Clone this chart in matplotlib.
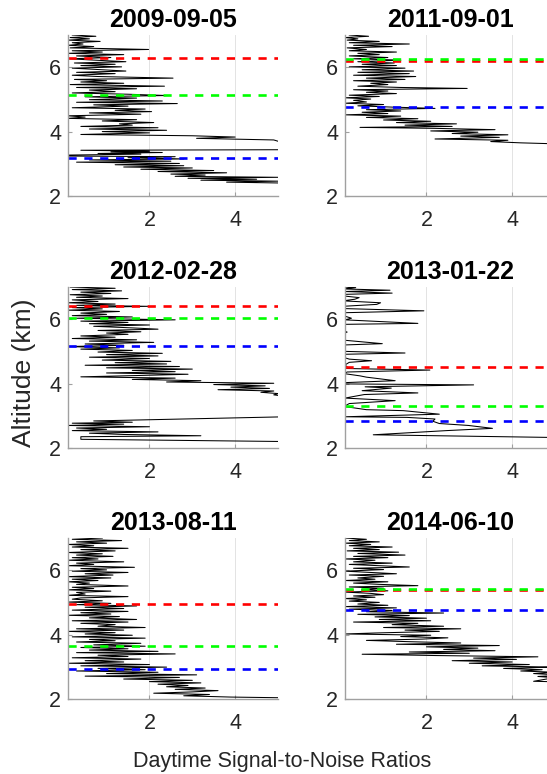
import matplotlib
matplotlib.use("Agg")
import matplotlib.pyplot as plt

plt.rcParams['font.family'] = ['Liberation Sans', 'DejaVu Sans']

# ---- data (altitude km, daytime SNR) ----
titles = ['2009-09-05', '2011-09-01', '2012-02-28',
          '2013-01-22', '2013-08-11', '2014-06-10']

alt_a = [7.00, 6.96, 6.92, 6.88, 6.84, 6.80, 6.76, 6.72, 6.68, 6.64, 6.60, 6.55, 6.51, 6.47,
         6.43, 6.39, 6.35, 6.30, 6.26, 6.22, 6.17, 6.13, 6.09, 6.05, 6.01, 5.97, 5.92, 5.88,
         5.84, 5.80, 5.75, 5.71, 5.66, 5.62, 5.58, 5.54, 5.50, 5.46, 5.41, 5.37, 5.33, 5.29,
         5.24, 5.20, 5.16, 5.12, 5.08, 5.04, 4.99, 4.95, 4.91, 4.87, 4.83, 4.79, 4.74, 4.70,
         4.66, 4.62, 4.58, 4.54, 4.49, 4.45, 4.41, 4.37, 4.33, 4.28, 4.24, 4.20, 4.16, 4.12,
         4.08, 4.04, 4.00, 3.96, 3.91, 3.87, 3.83, 3.79, 3.74, 3.70, 3.60, 3.50, 3.44, 3.42,
         3.39, 3.37, 3.35, 3.32, 3.30, 3.27, 3.24, 3.22, 3.19, 3.15, 3.12, 3.08, 3.05, 3.01,
         2.97, 2.94, 2.90, 2.87, 2.83, 2.79, 2.76, 2.72, 2.68, 2.65, 2.61, 2.58, 2.55, 2.52,
         2.49, 2.46, 2.43, 2.40]
snr_a = [0.20, 0.75, 0.15, 0.60, 0.10, 0.85, 0.20, 0.45, 0.10, 0.70, 0.15, 1.98, 0.20, 0.90,
         0.10, 1.40, 0.30, 1.10, 0.15, 0.70, 1.45, 0.25, 1.20, 0.40, 1.35, 0.20, 0.90, 1.45,
         0.30, 1.20, 0.20, 0.80, 2.55, 0.25, 1.00, 0.40, 1.40, 0.15, 2.35, 0.30, 1.70, 0.60,
         1.20, 0.20, 1.50, 2.40, 0.50, 1.70, 0.60, 2.30, 0.30, 2.65, 0.70, 1.50, 0.20, 1.90,
         1.20, 2.05, 0.60, 1.80, 0.10, 0.50, 0.10, 1.70, 0.90, 2.10, 1.30, 1.60, 0.40, 2.20,
         0.60, 2.40, 0.90, 2.00, 0.40, 3.00, 4.00, 3.10, 4.90, 5.00, 6.00, 6.50, 6.00, 0.40,
         2.00, 1.10, 2.30, 0.80, 1.80, 0.10, 0.10, 2.60, 1.50, 2.80, 0.60, 2.50, 0.30, 2.70,
         1.20, 2.80, 1.40, 3.00, 1.80, 3.50, 2.20, 3.80, 2.50, 3.30, 2.60, 5.00, 2.90, 4.50,
         3.20, 5.00, 3.80, 5.20]

alt_b = [7.00, 6.96, 6.92, 6.88, 6.84, 6.80, 6.76, 6.72, 6.68, 6.64, 6.60, 6.55, 6.51, 6.47,
         6.43, 6.39, 6.35, 6.30, 6.26, 6.22, 6.17, 6.13, 6.09, 6.05, 6.01, 5.97, 5.92, 5.88,
         5.84, 5.80, 5.75, 5.71, 5.66, 5.62, 5.58, 5.54, 5.50, 5.46, 5.41, 5.37, 5.34, 5.30,
         5.26, 5.22, 5.18, 5.13, 5.09, 5.05, 5.01, 4.97, 4.92, 4.88, 4.84, 4.80, 4.76, 4.72,
         4.68, 4.64, 4.60, 4.56, 4.52, 4.48, 4.44, 4.40, 4.36, 4.32, 4.28, 4.24, 4.20, 4.16,
         4.13, 4.10, 4.06, 4.02, 3.98, 3.94, 3.90, 3.86, 3.82, 3.77, 3.73, 3.69, 3.65, 3.62,
         3.58, 3.50]
snr_b = [0.20, 0.65, 0.10, 0.40, 0.15, 0.90, 0.20, 1.60, 0.30, 1.20, 0.15, 0.60, 0.20, 1.30,
         0.40, 0.90, 0.20, 1.10, 0.30, 1.40, 0.40, 1.25, 0.50, 1.30, 0.20, 1.50, 0.50, 1.70,
         0.40, 1.60, 0.30, 1.75, 0.60, 1.50, 0.30, 1.30, 0.70, 1.10, 0.40, 1.40, 2.95, 0.30,
         1.10, 0.60, 1.30, 0.20, 0.90, 0.10, 0.70, 0.30, 0.60, 0.10, 1.00, 0.40, 1.20, 2.20,
         0.60, 1.40, 0.50, 1.10, 0.10, 1.40, 0.60, 1.80, 1.00, 2.10, 1.30, 2.70, 1.50, 2.60,
         0.45, 2.20, 3.60, 2.10, 3.20, 2.60, 3.90, 2.80, 3.70, 2.20, 3.90, 3.50, 4.20, 5.00,
         5.20, 6.00]

alt_c = [7.00, 6.96, 6.92, 6.88, 6.84, 6.80, 6.76, 6.72, 6.68, 6.64, 6.60, 6.55, 6.51, 6.47,
         6.43, 6.40, 6.36, 6.32, 6.28, 6.24, 6.19, 6.15, 6.11, 6.07, 6.03, 5.98, 5.94, 5.90,
         5.86, 5.82, 5.78, 5.73, 5.69, 5.65, 5.61, 5.57, 5.53, 5.48, 5.44, 5.40, 5.36, 5.32,
         5.28, 5.23, 5.19, 5.15, 5.11, 5.07, 5.03, 4.98, 4.94, 4.90, 4.86, 4.82, 4.78, 4.73,
         4.69, 4.65, 4.61, 4.57, 4.53, 4.49, 4.45, 4.41, 4.37, 4.33, 4.29, 4.25, 4.21, 4.17,
         4.13, 4.09, 4.05, 4.01, 3.97, 3.93, 3.89, 3.85, 3.81, 3.77, 3.73, 3.69, 3.65, 3.60,
         3.40, 3.10, 2.97, 2.84, 2.80, 2.77, 2.74, 2.70, 2.66, 2.62, 2.58, 2.54, 2.50, 2.46,
         2.42, 2.38, 2.35, 2.31, 2.27, 2.20]
snr_c = [0.15, 1.20, 0.20, 1.35, 0.40, 1.10, 0.15, 0.90, 0.30, 1.50, 0.20, 0.80, 0.10, 1.20,
         0.30, 1.98, 0.20, 0.90, 0.10, 1.30, 0.40, 1.00, 0.20, 1.60, 0.30, 2.60, 0.40, 1.50,
         0.60, 2.00, 0.70, 1.60, 2.20, 0.80, 1.80, 1.00, 1.50, 0.40, 1.20, 0.20, 1.70, 0.60,
         2.10, 0.50, 1.40, 0.10, 1.30, 0.40, 1.60, 0.80, 2.30, 1.00, 2.20, 0.60, 2.00, 0.90,
         2.50, 1.20, 2.40, 0.50, 2.70, 1.00, 3.00, 1.60, 2.60, 1.00, 2.90, 1.70, 0.40, 2.60,
         1.60, 3.20, 2.40, 4.90, 3.50, 4.70, 3.90, 4.80, 3.60, 4.90, 4.60, 5.00, 4.90, 5.20,
         6.00, 6.50, 5.20, 0.70, 1.60, 0.20, 1.40, 0.10, 2.00, 0.30, 1.00, 0.20, 2.20, 0.60,
         1.40, 3.20, 0.40, 0.40, 0.40, 5.20]

alt_d = [7.00, 6.98, 6.94, 6.90, 6.86, 6.81, 6.77, 6.72, 6.67, 6.62, 6.57, 6.51, 6.46, 6.40,
         6.33, 6.26, 6.20, 6.12, 6.03, 5.98, 5.87, 5.84, 5.75, 5.65, 5.60, 5.55, 5.45, 5.35,
         5.24, 5.20, 5.10, 5.00, 4.95, 4.91, 4.82, 4.76, 4.71, 4.66, 4.58, 4.52, 4.47, 4.42,
         4.36, 4.31, 4.24, 4.20, 4.09, 4.03, 3.99, 3.96, 3.90, 3.86, 3.78, 3.71, 3.66, 3.55,
         3.47, 3.38, 3.29, 3.19, 3.16, 3.05, 2.97, 2.95, 2.90, 2.83, 2.76, 2.70, 2.61, 2.54,
         2.41, 2.33, 2.31]
snr_d = [0.05, 0.35, 0.05, 1.15, 0.10, 1.20, 0.05, 0.08, 0.43, 0.33, 0.05, 0.93, 0.84, 0.05,
         0.08, 1.94, 0.05, 0.04, 0.25, 0.10, 1.80, 0.08, 0.03, 0.05, 0.15, 0.05, 0.03, 0.06,
         0.97, 0.08, 0.05, 0.12, 1.50, 0.08, 0.05, 0.20, 0.72, 0.20, 0.10, 0.15, 0.08, 2.08,
         0.15, 0.08, 0.45, 0.60, 1.27, 0.10, 0.08, 3.10, 0.57, 1.18, 0.50, 1.80, 0.55, 0.10,
         1.27, 0.20, 0.08, 0.60, 1.46, 2.30, 0.10, 1.55, 2.20, 2.15, 2.30, 2.98, 3.54, 2.47,
         0.76, 4.80, 5.50]

alt_e = [7.00, 6.96, 6.92, 6.88, 6.84, 6.80, 6.76, 6.72, 6.68, 6.64, 6.60, 6.55, 6.51, 6.47,
         6.43, 6.39, 6.35, 6.31, 6.26, 6.22, 6.18, 6.14, 6.09, 6.05, 6.01, 5.97, 5.93, 5.89,
         5.85, 5.80, 5.76, 5.72, 5.68, 5.64, 5.60, 5.56, 5.51, 5.47, 5.43, 5.39, 5.35, 5.31,
         5.26, 5.22, 5.18, 5.14, 5.10, 5.05, 5.01, 4.97, 4.93, 4.89, 4.85, 4.81, 4.76, 4.72,
         4.68, 4.64, 4.60, 4.56, 4.52, 4.47, 4.43, 4.39, 4.35, 4.31, 4.26, 4.22, 4.18, 4.14,
         4.10, 4.06, 4.02, 3.98, 3.93, 3.89, 3.85, 3.81, 3.77, 3.73, 3.68, 3.64, 3.60, 3.56,
         3.52, 3.48, 3.44, 3.40, 3.36, 3.32, 3.28, 3.24, 3.19, 3.15, 3.11, 3.07, 3.03, 2.99,
         2.95, 2.91, 2.87, 2.83, 2.79, 2.75, 2.71, 2.67, 2.62, 2.58, 2.54, 2.50, 2.46, 2.42,
         2.38, 2.34, 2.30, 2.26, 2.22, 2.18, 2.14, 2.10, 2.06, 2.04]
snr_e = [0.90, 0.20, 1.35, 0.30, 1.00, 0.10, 0.70, 0.20, 1.50, 0.40, 1.20, 0.10, 0.90, 0.30,
         1.15, 0.20, 0.80, 0.10, 1.40, 0.30, 0.70, 0.10, 1.65, 0.40, 1.00, 0.20, 1.50, 0.50,
         1.15, 0.10, 1.10, 0.20, 0.80, 0.10, 0.60, 0.30, 1.50, 0.20, 0.70, 0.10, 1.10, 0.30,
         0.50, 0.10, 1.50, 0.40, 0.20, 0.90, 0.10, 1.10, 0.30, 1.70, 0.50, 1.40, 0.20, 1.50,
         0.40, 1.10, 0.10, 1.30, 0.60, 1.70, 0.20, 1.50, 0.40, 1.20, 0.80, 1.90, 0.30, 1.40,
         0.10, 1.20, 0.50, 1.60, 0.20, 1.90, 0.60, 1.20, 0.30, 1.80, 0.70, 1.90, 0.40, 1.50,
         0.60, 2.20, 0.30, 2.60, 0.80, 1.50, 0.20, 1.80, 0.50, 1.40, 0.10, 2.00, 0.40, 2.40,
         0.80, 1.90, 0.30, 2.20, 1.00, 3.10, 0.50, 2.70, 1.40, 3.00, 2.00, 3.20, 2.20, 2.90,
         2.40, 3.30, 2.60, 3.60, 3.00, 2.10, 3.40, 2.80, 3.90, 5.00]

alt_f = [7.00, 6.96, 6.92, 6.88, 6.84, 6.80, 6.76, 6.72, 6.68, 6.64, 6.60, 6.56, 6.52, 6.47,
         6.43, 6.39, 6.35, 6.31, 6.26, 6.22, 6.18, 6.14, 6.10, 6.06, 6.02, 5.97, 5.93, 5.89,
         5.85, 5.81, 5.76, 5.72, 5.68, 5.64, 5.60, 5.56, 5.52, 5.48, 5.44, 5.40, 5.36, 5.32,
         5.28, 5.24, 5.20, 5.16, 5.12, 5.08, 5.04, 5.00, 4.95, 4.91, 4.87, 4.83, 4.79, 4.75,
         4.71, 4.67, 4.63, 4.59, 4.55, 4.51, 4.47, 4.43, 4.39, 4.35, 4.31, 4.26, 4.22, 4.18,
         4.14, 4.10, 4.05, 4.02, 3.98, 3.94, 3.90, 3.86, 3.82, 3.78, 3.74, 3.70, 3.66, 3.62,
         3.58, 3.54, 3.50, 3.46, 3.42, 3.39, 3.35, 3.31, 3.27, 3.23, 3.19, 3.15, 3.11, 3.07,
         3.03, 2.99, 2.95, 2.91, 2.87, 2.83, 2.79, 2.74, 2.70, 2.66, 2.62, 2.55, 2.52]
snr_f = [0.10, 0.60, 0.20, 0.90, 0.10, 0.70, 0.20, 1.20, 0.30, 0.90, 0.15, 1.35, 0.40, 1.50,
         0.30, 1.10, 0.10, 0.80, 0.30, 1.20, 0.20, 0.90, 1.60, 0.30, 1.00, 0.10, 0.70, 1.30,
         0.20, 1.00, 0.40, 0.80, 0.10, 1.10, 0.30, 0.90, 1.80, 0.20, 1.00, 0.50, 1.10, 0.10,
         0.70, 1.00, 0.30, 0.80, 0.10, 0.60, 0.20, 0.90, 0.40, 1.10, 0.10, 1.30, 0.20, 1.20,
         0.60, 2.40, 0.40, 1.60, 0.80, 2.00, 0.90, 2.10, 0.30, 1.80, 1.20, 2.40, 1.00, 2.80,
         1.50, 2.30, 0.80, 0.10, 2.10, 1.40, 2.50, 1.90, 0.60, 1.60, 2.80, 1.30, 3.70, 2.00,
         3.20, 2.40, 3.60, 1.60, 3.00, 0.50, 2.20, 4.60, 3.10, 4.10, 2.60, 4.00, 3.00, 4.40,
         3.30, 5.00, 3.80, 4.70, 4.20, 5.00, 4.50, 5.20, 4.60, 5.00, 4.80, 4.50, 5.50]

# layer tops: red, green, blue (km)
red_lvl = [6.30, 6.20, 6.42, 4.52, 4.94, 5.37]
green_lvl = [5.15, 6.25, 6.03, 3.29, 3.66, 5.42]
blue_lvl = [3.17, 4.77, 5.18, 2.85, 2.92, 4.76]

profiles = [(snr_a, alt_a), (snr_b, alt_b), (snr_c, alt_c),
            (snr_d, alt_d), (snr_e, alt_e), (snr_f, alt_f)]

fig = plt.figure(figsize=(5.47, 7.74), dpi=100)

lefts = [0.1243, 0.6307]
bottoms = [0.7468, 0.4212, 0.0969]
w, h = 0.384, 0.208
dash = (3.1, 2.9)

for i, (snr, alt) in enumerate(profiles):
    ax = fig.add_axes([lefts[i % 2], bottoms[i // 2], w, h])
    ax.plot(snr, alt, color='black', linewidth=0.75)
    # red first, green over it, blue last (as in the original)
    ax.axhline(red_lvl[i], color=(1, 0, 0), linewidth=1.9, dashes=dash)
    ax.axhline(green_lvl[i], color=(0, 1, 0), linewidth=1.9, dashes=dash)
    ax.axhline(blue_lvl[i], color=(0, 0, 1), linewidth=1.9, dashes=dash)

    ax.set_xlim(0.1, 5)
    ax.set_ylim(2, 7)
    ax.set_xticks([2, 4])
    ax.set_yticks([2, 4, 6])
    ax.grid(True, axis='x', color='#e3e3e3', linewidth=0.7)
    ax.set_axisbelow(True)
    for s in ['top', 'right']:
        ax.spines[s].set_visible(False)
    for s in ['left', 'bottom']:
        ax.spines[s].set_color('#a0a0a0')
        ax.spines[s].set_linewidth(1.0)
    ax.tick_params(axis='both', direction='in', length=3, color='#a0a0a0',
                   labelsize=15.5, labelcolor='#262626')
    ax.tick_params(axis='x', pad=10)
    ax.tick_params(axis='y', pad=5)
    ax.set_title(titles[i], fontsize=18, fontweight='bold', pad=6)

fig.text(0.044, 0.519, 'Altitude (km)', rotation=90, ha='center', va='center',
         fontsize=19, color='#262626')
fig.text(0.516, 0.009, 'Daytime Signal-to-Noise Ratios', ha='center', va='baseline',
         fontsize=15.5, color='#262626')

fig.savefig('out.png', dpi=100)
